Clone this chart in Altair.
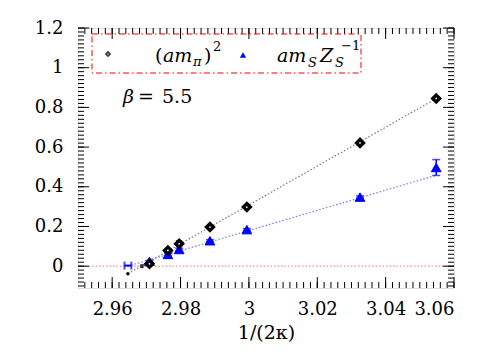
import altair as alt
import pandas as pd
import numpy as np

# ---------------- data ----------------
x_vals = [2.9709, 2.9763, 2.9796, 2.9886, 2.9994, 3.0325, 3.0548]
pi_y = [0.012, 0.079, 0.113, 0.197, 0.298, 0.621, 0.845]
pi_err = [0.008, 0.008, 0.015, 0.006, 0.006, 0.006, 0.006]
s_y = [0.024, 0.059, 0.084, 0.128, 0.184, 0.348, 0.497]
s_err = [0.005, 0.005, 0.006, 0.005, 0.005, 0.006, 0.040]

# chiral-limit extrapolations
chiral_x = [2.9646]
chiral_pi = [-0.038]
chiral_s_x = [2.9646]
chiral_s_y = [0.003]
chiral_s_xerr = [0.001]
kc_x = [2.9687]
kc_y = [0.0]
kc_err = [0.010]

# fits
fit_pi_x = [2.9646, 3.0548]
fit_pi_y = [-0.038, 0.845]
fit_s_x = [2.9646, 3.0548]
fit_s_y = [0.0, 0.458]

x_major = [2.96, 2.98, 3.00, 3.02, 3.04, 3.06]
y_major = [0, 0.2, 0.4, 0.6, 0.8, 1.0, 1.2]
x_minor = [round(v, 3) for v in np.arange(2.952, 3.0601, 0.002)]
y_minor = [round(v, 2) for v in np.arange(-0.10, 1.2001, 0.02)]

# ---------------- layout ----------------
W, H = 376, 260
FONT = "DejaVu Serif"
xs = alt.Scale(domain=[2.95, 3.06], nice=False, zero=False)
ys = alt.Scale(domain=[-0.11, 1.2], nice=False, zero=False)

main = pd.DataFrame({"x": x_vals, "pi": pi_y, "pie": pi_err, "s": s_y, "se": s_err})
main["pi_lo"] = main["pi"] - main["pie"]
main["pi_hi"] = main["pi"] + main["pie"]
main["s_lo"] = main["s"] - main["se"]
main["s_hi"] = main["s"] + main["se"]

X = alt.X("x:Q", scale=xs,
          axis=alt.Axis(values=x_major, format="~g", ticks=False, tickSize=0, domain=False,
                        grid=False, labelFont=FONT, labelFontSize=18, labelPadding=12,
                        labelColor="black", titleFont=FONT, titleFontSize=19,
                        titleFontWeight="normal", titleColor="black", titlePadding=5),
          title="1/(2κ)")
Y = alt.Y("y:Q", scale=ys,
          axis=alt.Axis(values=y_major, format="~g", ticks=False, tickSize=0, domain=False,
                        grid=False, labelFont=FONT, labelFontSize=18, labelPadding=15,
                        labelColor="black"),
          title=None)

base = alt.Chart(main)

zero_line = alt.Chart(pd.DataFrame({"y": [0]})).mark_rule(
    color="#ff7070", strokeDash=[1.5, 2], strokeWidth=1).encode(
    y=alt.Y("y:Q", scale=ys), x=alt.value(0), x2=alt.value(W))

fit_pi = alt.Chart(pd.DataFrame({"x": fit_pi_x, "y": fit_pi_y})).mark_line(
    color="#777777", strokeDash=[1.5, 2], strokeWidth=1.2).encode(x=X, y=Y)
fit_s = alt.Chart(pd.DataFrame({"x": fit_s_x, "y": fit_s_y})).mark_line(
    color="#7777ff", strokeDash=[1.5, 2], strokeWidth=1.2).encode(
    x=alt.X("x:Q", scale=xs), y=alt.Y("y:Q", scale=ys))

err_pi = base.mark_rule(color="black", strokeWidth=1.5).encode(
    x=alt.X("x:Q", scale=xs), y=alt.Y("pi_lo:Q", scale=ys), y2="pi_hi:Q")
err_s = base.mark_rule(color="blue", strokeWidth=1.5).encode(
    x=alt.X("x:Q", scale=xs), y=alt.Y("s_lo:Q", scale=ys), y2="s_hi:Q")
cap_s_lo = base.mark_tick(color="blue", thickness=1.5, size=8, orient="horizontal").encode(
    x=alt.X("x:Q", scale=xs), y=alt.Y("s_lo:Q", scale=ys))
cap_s_hi = base.mark_tick(color="blue", thickness=1.5, size=8, orient="horizontal").encode(
    x=alt.X("x:Q", scale=xs), y=alt.Y("s_hi:Q", scale=ys))
cap_pi_lo = base.mark_tick(color="black", thickness=1.5, size=6, orient="horizontal").encode(
    x=alt.X("x:Q", scale=xs), y=alt.Y("pi_lo:Q", scale=ys))
cap_pi_hi = base.mark_tick(color="black", thickness=1.5, size=6, orient="horizontal").encode(
    x=alt.X("x:Q", scale=xs), y=alt.Y("pi_hi:Q", scale=ys))

tri = base.mark_point(shape="triangle-up", filled=True, fill="blue", stroke="blue",
                      strokeWidth=1, size=95, opacity=1).encode(
    x=alt.X("x:Q", scale=xs), y=alt.Y("s:Q", scale=ys))
dia = base.mark_point(shape="diamond", filled=True, fill="black", stroke="black",
                      strokeWidth=1.5, size=90, opacity=1).encode(
    x=alt.X("x:Q", scale=xs), y=alt.Y("pi:Q", scale=ys))
dia_c = base.mark_point(shape="circle", filled=True, fill="white", size=3, opacity=1,
                        strokeWidth=0).encode(
    x=alt.X("x:Q", scale=xs), y=alt.Y("pi:Q", scale=ys))

chir = alt.Chart(pd.DataFrame({"x": chiral_x, "y": chiral_pi})).mark_point(
    shape="circle", filled=True, color="black", size=12, opacity=1).encode(
    x=alt.X("x:Q", scale=xs), y=alt.Y("y:Q", scale=ys))

cs = pd.DataFrame({"x": chiral_s_x, "y": chiral_s_y, "e": chiral_s_xerr})
cs["lo"] = cs["x"] - cs["e"]
cs["hi"] = cs["x"] + cs["e"]
chs_bar = alt.Chart(cs).mark_rule(color="blue", strokeWidth=2).encode(
    x=alt.X("lo:Q", scale=xs), x2="hi:Q", y=alt.Y("y:Q", scale=ys))
chs_l = alt.Chart(cs).mark_tick(color="blue", thickness=2, size=8, orient="vertical").encode(
    x=alt.X("lo:Q", scale=xs), y=alt.Y("y:Q", scale=ys))
chs_h = alt.Chart(cs).mark_tick(color="blue", thickness=2, size=8, orient="vertical").encode(
    x=alt.X("hi:Q", scale=xs), y=alt.Y("y:Q", scale=ys))

kc = pd.DataFrame({"x": kc_x, "y": kc_y, "e": kc_err})
kc["lo"] = kc["y"] - kc["e"]
kc["hi"] = kc["y"] + kc["e"]
kc_bar = alt.Chart(kc).mark_rule(color="#333333", strokeWidth=3.5).encode(
    x=alt.X("x:Q", scale=xs), y=alt.Y("lo:Q", scale=ys), y2="hi:Q")

# ---------------- inward ticks on all four sides ----------------
MAJ, MIN = 11, 6
def xticks(vals, L):
    d = alt.Chart(pd.DataFrame({"x": vals}))
    b = d.mark_rule(color="black", strokeWidth=1).encode(
        x=alt.X("x:Q", scale=xs), y=alt.value(H), y2=alt.value(H - L))
    t = d.mark_rule(color="black", strokeWidth=1).encode(
        x=alt.X("x:Q", scale=xs), y=alt.value(0), y2=alt.value(L))
    return [b, t]

def yticks(vals, L):
    d = alt.Chart(pd.DataFrame({"y": vals}))
    l = d.mark_rule(color="black", strokeWidth=1).encode(
        y=alt.Y("y:Q", scale=ys), x=alt.value(0), x2=alt.value(L))
    r = d.mark_rule(color="black", strokeWidth=1).encode(
        y=alt.Y("y:Q", scale=ys), x=alt.value(W), x2=alt.value(W - L))
    return [l, r]

tick_layers = xticks(x_minor, MIN) + xticks(x_major, MAJ) + yticks(y_minor, MIN) + yticks(y_major, MAJ)

# ---------------- legend & annotation ----------------
one = pd.DataFrame({"a": [0]})
def txt(s, x, y, size=19, style="normal", color="black"):
    return alt.Chart(one).mark_text(text=s, font=FONT, fontSize=size, fontStyle=style,
                                    align="left", baseline="alphabetic", color=color).encode(
        x=alt.value(x), y=alt.value(y))

leg_box = alt.Chart(one).mark_rect(fill="white", fillOpacity=0, stroke="red",
                                   strokeWidth=1, strokeDash=[6, 3, 1.5, 3]).encode(
    x=alt.value(14), x2=alt.value(283), y=alt.value(6), y2=alt.value(45))
leg_dia = alt.Chart(one).mark_point(shape="diamond", filled=True, fill="#333333", size=40,
                                    opacity=1).encode(x=alt.value(30), y=alt.value(26))
leg_dia_c = alt.Chart(one).mark_point(shape="circle", filled=True, fill="white", size=2,
                                      opacity=1).encode(x=alt.value(30), y=alt.value(26))
leg_tri = alt.Chart(one).mark_point(shape="triangle-up", filled=True, fill="blue", size=40,
                                    opacity=1).encode(x=alt.value(165), y=alt.value(27))
BL = 34
legend_text = [
    txt("(", 77, BL),
    txt("am", 85, BL, style="italic"),
    txt("π", 115, BL + 4, size=13, style="italic"),
    txt(")", 126, BL),
    txt("2", 135, BL - 11, size=13),
    txt("am", 199, BL, style="italic"),
    txt("S", 230, BL + 5, size=13, style="italic"),
    txt("Z", 242, BL, style="italic"),
    txt("S", 257, BL + 5, size=13, style="italic"),
    txt("−1", 263, BL - 12, size=13),
]
beta = [txt("β", 45, 75, style="italic"),
        txt("=", 60, 75),
        txt("5.5", 84, 75)]

chart = alt.layer(
    zero_line, fit_pi, fit_s,
    err_pi, cap_pi_lo, cap_pi_hi, err_s, cap_s_lo, cap_s_hi,
    kc_bar, chs_bar, chs_l, chs_h, chir,
    tri, dia, dia_c,
    *tick_layers,
    leg_box, leg_dia, leg_dia_c, leg_tri, *legend_text, *beta,
).properties(
    width=W, height=H,
    autosize=alt.AutoSizeParams(type="none"),
    padding={"left": 70, "top": 20, "right": 36, "bottom": 60},
).configure_view(stroke="black", strokeWidth=2).configure(background="white")

chart.save("out.html", embed_options={"renderer": "svg", "actions": False})
